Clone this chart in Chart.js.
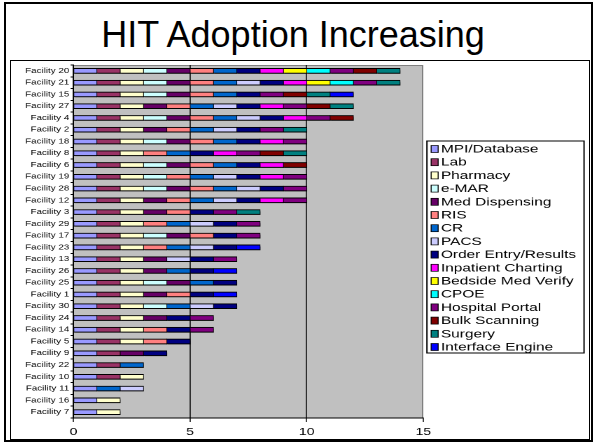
<!DOCTYPE html>
<html>
<head>
<meta charset="utf-8">
<script src="https://cdn.jsdelivr.net/npm/chart.js@4/dist/chart.umd.min.js"></script>
<style>
  html, body { margin: 0; padding: 0; background: #fff; width: 594px; height: 444px; overflow: hidden; }
  #frame { position: absolute; left: 4px; top: 2px; width: 585px; height: 436px; border: 2px solid #000; }
  #title { position: absolute; left: 0; top: 17px; width: 586px; text-align: center;
           font: 36px/36px "Liberation Sans", Arial, sans-serif; color: #000; }
  #box { position: absolute; left: 10px; top: 60px; width: 578px; height: 378px; border: 1px solid #000; overflow: hidden; }
  /* the embedded chart object is stretched sideways */
  #stretch { position: absolute; left: 0; top: 0; width: 413px; height: 377px; transform: scaleX(1.4); transform-origin: 0 0; }
</style>
</head>
<body>
<div id="frame"></div>
<div id="title">HIT Adoption Increasing</div>
<div id="box"><div id="stretch"><canvas id="chart" width="413" height="377"></canvas></div></div>
<script>
// Facilities, top to bottom
const facilities = ['Facility 20','Facility 21','Facility 15','Facility 27','Facility 4','Facility 2','Facility 18',
  'Facility 8','Facility 6','Facility 19','Facility 28','Facility 12','Facility 3','Facility 29','Facility 17',
  'Facility 23','Facility 13','Facility 26','Facility 25','Facility 1','Facility 30','Facility 24','Facility 14',
  'Facility 5','Facility 9','Facility 22','Facility 10','Facility 11','Facility 16','Facility 7'];

// Systems in stacking / legend order
const systems = ['MPI/Database','Lab','Pharmacy','e-MAR','Med Dispensing','RIS','CR','PACS',
  'Order Entry/Results','Inpatient Charting','Bedside Med Verify','CPOE','Hospital Portal',
  'Bulk Scanning','Surgery','Interface Engine'];

const systemColors = ['#9999FF','#993366','#FFFFCC','#CCFFFF','#660066','#FF8080','#0066CC','#CCCCFF',
  '#000080','#FF00FF','#FFFF00','#00FFFF','#800080','#800000','#008080','#0000FF'];

// 1 = system in place at the facility (same order as facilities)
const mpiDatabase       = [1,1,1,1,1, 1,1,1,1,1, 1,1,1,1,1, 1,1,1,1,1, 1,1,1,1,1, 1,1,1,1,1];
const lab               = [1,1,1,1,1, 1,1,1,1,1, 1,1,1,1,1, 1,1,1,1,1, 1,1,1,1,1, 1,1,0,0,0];
const pharmacy          = [1,1,1,1,1, 1,1,1,1,1, 1,1,1,1,1, 1,1,1,1,1, 1,1,1,1,0, 0,1,0,1,1];
const eMar              = [1,1,1,0,1, 0,1,0,1,1, 1,0,0,0,1, 0,0,0,1,0, 1,0,0,0,0, 0,0,0,0,0];
const medDispensing     = [1,1,1,1,1, 1,1,0,1,0, 1,1,1,0,1, 0,1,1,1,1, 0,1,0,0,1, 0,0,0,0,0];
const ris               = [1,1,1,1,1, 1,1,1,1,1, 1,1,1,1,1, 1,0,0,0,1, 0,0,1,1,0, 0,0,0,0,0];
const cr                = [1,1,1,1,1, 1,1,1,1,1, 1,1,0,1,0, 1,0,1,1,0, 1,0,0,0,0, 1,0,1,0,0];
const pacs              = [0,1,0,1,1, 1,0,0,0,1, 1,1,0,1,0, 1,1,0,0,0, 1,0,0,0,0, 0,0,1,0,0];
const orderEntry        = [1,1,1,1,1, 1,1,1,1,1, 1,1,1,1,1, 1,1,1,1,1, 1,1,1,1,1, 0,0,0,0,0];
const inpatientCharting = [1,1,0,1,1, 0,1,1,1,1, 0,1,0,0,0, 0,0,0,0,0, 0,0,0,0,0, 0,0,0,0,0];
const bedsideMedVerify  = [1,1,0,0,0, 0,0,0,0,0, 0,0,0,0,0, 0,0,0,0,0, 0,0,0,0,0, 0,0,0,0,0];
const cpoe              = [1,1,0,0,0, 0,0,0,0,0, 0,0,0,0,0, 0,0,0,0,0, 0,0,0,0,0, 0,0,0,0,0];
const hospitalPortal    = [1,1,1,1,1, 1,1,1,0,1, 1,1,1,1,1, 0,1,0,0,0, 0,1,1,0,0, 0,0,0,0,0];
const bulkScanning      = [1,0,1,1,1, 0,0,1,1,0, 0,0,0,0,0, 0,0,0,0,0, 0,0,0,0,0, 0,0,0,0,0];
const surgery           = [1,1,1,1,0, 1,0,1,0,0, 0,0,1,0,0, 0,0,0,0,0, 0,0,0,0,0, 0,0,0,0,0];
const interfaceEngine   = [0,0,1,0,0, 0,0,0,0,0, 0,0,0,0,0, 1,0,1,0,1, 0,0,0,0,0, 0,0,0,0,0];

const xTickValues = [0, 5, 10, 15];

const adoption = [mpiDatabase, lab, pharmacy, eMar, medDispensing, ris, cr, pacs, orderEntry,
  inpatientCharting, bedsideMedVerify, cpoe, hospitalPortal, bulkScanning, surgery, interfaceEngine];

const FONT = "'Liberation Sans', Arial, sans-serif";
Chart.defaults.font.family = FONT;
Chart.defaults.color = '#000';

// gray plot area, its outline and the drop shadow under the bars
const plotArea = {
  id: 'plotArea',
  beforeDraw(chart) {
    const { ctx, chartArea: a } = chart;
    ctx.save();
    ctx.fillStyle = '#c0c0c0';
    ctx.fillRect(a.left, a.top, a.right - a.left, a.bottom - a.top);
    ctx.strokeStyle = '#808080';
    ctx.lineWidth = 1;
    ctx.beginPath();
    ctx.moveTo(a.left, a.top + 0.5);
    ctx.lineTo(a.right - 0.5, a.top + 0.5);
    ctx.lineTo(a.right - 0.5, a.bottom);
    ctx.stroke();
    ctx.restore();
  },
  beforeDatasetsDraw(chart) {
    const ctx = chart.ctx;
    ctx.save();
    ctx.shadowColor = 'rgba(0,0,0,0.33)';
    ctx.shadowOffsetX = 2;
    ctx.shadowOffsetY = 3;
    ctx.shadowBlur = 0;
  },
  afterDatasetsDraw(chart) {
    chart.ctx.restore();
  }
};

// framed legend to the right of the plot
const boxedLegend = {
  id: 'boxedLegend',
  afterDraw(chart) {
    const { ctx, chartArea: a } = chart;
    const sets = chart.data.datasets;
    const rowH = 13.2;
    const left = a.right + 2.6;
    const right = chart.width - 3.7;
    const top = 80;
    const firstY = top + 8;
    const bottom = firstY + (sets.length - 1) * rowH + 6;
    ctx.save();
    ctx.strokeStyle = '#000';
    ctx.lineWidth = 1;
    ctx.strokeRect(left, top, right - left, bottom - top);
    ctx.font = '11px ' + FONT;
    ctx.textBaseline = 'middle';
    ctx.textAlign = 'left';
    sets.forEach((ds, i) => {
      const y = firstY + i * rowH;
      ctx.fillStyle = ds.backgroundColor;
      ctx.fillRect(left + 3, y - 3.5, 5, 7);
      ctx.lineWidth = 0.7;
      ctx.strokeRect(left + 3, y - 3.5, 5, 7);
      ctx.fillStyle = '#000';
      ctx.fillText(ds.label, left + 10, y + 0.5);
    });
    ctx.restore();
  }
};

new Chart(document.getElementById('chart'), {
  type: 'bar',
  data: {
    labels: facilities,
    datasets: systems.map((name, i) => ({
      label: name,
      data: adoption[i].map(v => (v ? v : null)),
      backgroundColor: systemColors[i],
      borderColor: '#000',
      borderWidth: { top: 1, bottom: 1, left: 0.5, right: 0.5 },
      borderSkipped: false,
      barThickness: 5
    }))
  },
  options: {
    indexAxis: 'y',
    responsive: false,
    animation: false,
    devicePixelRatio: 2,
    layout: { padding: { left: 0, top: 4, right: 118.5, bottom: 0 } },
    scales: {
      x: {
        stacked: true,
        min: 0,
        max: 15,
        afterBuildTicks(s) { s.ticks = xTickValues.map(v => ({ value: v })); },
        grid: {
          color: c => (c.tick && (c.tick.value === 0 || c.tick.value === 15)) ? 'rgba(0,0,0,0)' : '#000',
          tickColor: '#000',
          tickLength: 4,
          lineWidth: 0.75
        },
        border: { display: true, color: '#000', width: 1 },
        ticks: { font: { size: 10 }, color: '#000', padding: 4, maxRotation: 0, autoSkip: false },
        afterFit(s) { s.height = 20; s.paddingLeft = 0; s.paddingRight = 0; }
      },
      y: {
        stacked: true,
        grid: { drawOnChartArea: false, drawTicks: true, tickLength: 2, color: '#000', tickColor: '#000', offset: true },
        border: { display: true, color: '#000', width: 1 },
        ticks: { font: { size: 7 }, color: '#000', padding: 1, autoSkip: false },
        afterFit(s) { s.width = 44.6; s.paddingTop = 0; s.paddingBottom = 0; }
      }
    },
    plugins: {
      legend: { display: false },
      tooltip: { enabled: false }
    }
  },
  plugins: [plotArea, boxedLegend]
});
</script>
</body>
</html>
